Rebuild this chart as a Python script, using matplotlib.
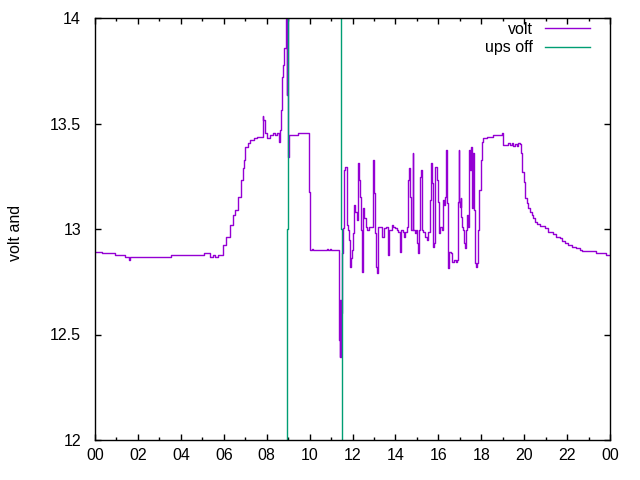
import matplotlib
matplotlib.use("Agg")
import matplotlib.pyplot as plt
import numpy as np

plt.rcParams['font.family'] = ['Liberation Sans', 'DejaVu Sans']

# volt series: (hour, volt)
volt_h = [0.00, 0.33, 0.93, 1.40, 1.58, 1.63, 3.53, 5.08, 5.36, 5.50, 5.59, 5.73,
          5.97, 6.11, 6.29, 6.43, 6.52, 6.66, 6.80, 6.90, 6.94, 6.99, 7.13, 7.22,
          7.41, 7.55, 7.81, 7.83, 7.92, 8.02, 8.16, 8.30, 8.39, 8.48, 8.57, 8.62,
          8.67, 8.71, 8.76, 8.81, 8.88, 8.92, 8.95, 8.96, 8.97, 9.01, 9.03, 9.46,
          9.99, 10.04, 10.10, 10.16, 10.80, 10.88, 10.95, 11.00,
          11.37, 11.39, 11.42, 11.44, 11.46, 11.48, 11.51, 11.54, 11.60, 11.65,
          11.76, 11.80, 11.84, 11.88, 11.93, 11.99, 12.04, 12.08, 12.13, 12.20,
          12.26, 12.30, 12.35, 12.40, 12.44, 12.50, 12.55, 12.63, 12.69, 12.78,
          12.90, 12.97, 13.00, 13.05, 13.10, 13.14, 13.20, 13.31, 13.39, 13.47,
          13.56, 13.67, 13.72, 13.83, 13.90, 13.98, 14.06, 14.13, 14.21, 14.25,
          14.34, 14.40, 14.46, 14.53, 14.57, 14.60, 14.65, 14.68, 14.73, 14.81,
          14.83, 14.91, 14.96, 15.02, 15.07, 15.11, 15.15, 15.18, 15.23, 15.30,
          15.38, 15.46, 15.53, 15.61, 15.64, 15.69, 15.74, 15.80, 15.86, 15.92,
          15.97, 16.02, 16.08, 16.16, 16.23, 16.28, 16.33, 16.36, 16.39, 16.44,
          16.46, 16.51, 16.58, 16.64, 16.73, 16.81, 16.86, 16.90, 16.95, 16.98,
          17.01, 17.04, 17.07, 17.10, 17.16, 17.21, 17.24, 17.29, 17.32, 17.37,
          17.42, 17.44, 17.48, 17.51, 17.57, 17.62, 17.65, 17.71, 17.76, 17.82,
          17.86, 17.91, 17.97, 18.02, 18.10, 18.25, 18.56, 18.95, 18.98, 19.01,
          19.26, 19.34, 19.42, 19.49, 19.57, 19.65, 19.73, 19.81, 19.85, 19.91,
          19.98, 20.02, 20.05, 20.12, 20.19, 20.27, 20.35, 20.43, 20.51, 20.61,
          20.74, 20.97, 21.13, 21.33, 21.48, 21.67, 21.75, 21.90, 22.06, 22.22,
          22.42, 22.60, 22.68, 23.35, 23.81, 24.00]
volt_v = [12.893, 12.885, 12.877, 12.869, 12.853, 12.866, 12.877, 12.885, 12.869, 12.877, 12.869, 12.877,
          12.924, 12.962, 13.019, 13.066, 13.090, 13.152, 13.232, 13.289, 13.327, 13.389, 13.408, 13.422,
          13.431, 13.436, 13.536, 13.517, 13.455, 13.431, 13.445, 13.455, 13.445, 13.455, 13.412, 13.469,
          13.564, 13.720, 13.777, 13.858, 13.943, 13.995, 14.180, 13.635, 14.180, 13.341, 13.445, 13.454,
          13.175, 12.900, 12.907, 12.900, 12.907, 12.900, 12.907, 12.900,
          12.720, 12.474, 12.393, 12.664, 12.393, 12.600, 12.886, 13.005, 13.280, 13.294,
          13.019, 12.995, 12.948, 12.820, 12.863, 12.900, 12.981, 13.114, 13.081, 13.043,
          13.313, 13.232, 13.152, 12.995, 12.796, 13.100, 13.052, 13.009, 12.995, 13.009,
          13.009, 13.327, 13.171, 12.981, 12.820, 12.791, 13.009, 13.009, 12.962, 13.005,
          13.009, 12.877, 12.995, 13.019, 13.009, 13.005, 12.995, 12.986, 12.891, 12.995,
          12.986, 12.962, 12.986, 13.009, 13.137, 13.232, 13.289, 13.152, 12.995, 13.360,
          12.995, 12.981, 12.995, 12.934, 12.886, 12.995, 13.246, 13.280, 12.995, 12.986,
          12.962, 12.948, 12.986, 13.137, 13.313, 13.218, 12.915, 12.934, 13.294, 13.232,
          13.128, 12.981, 13.009, 12.995, 13.137, 13.114, 13.152, 13.374, 13.123, 12.839,
          12.815, 12.891, 12.886, 12.844, 12.853, 12.844, 12.853, 13.128, 13.374, 13.128,
          13.104, 13.147, 13.057, 13.009, 12.995, 12.934, 12.910, 12.995, 13.066, 13.009,
          13.280, 13.374, 13.280, 13.389, 13.100, 13.360, 13.090, 12.839, 12.820, 12.839,
          12.995, 13.185, 13.327, 13.412, 13.431, 13.436, 13.445, 13.445, 13.455, 13.398,
          13.408, 13.398, 13.408, 13.393, 13.403, 13.393, 13.408, 13.403, 13.360, 13.270,
          13.223, 13.175, 13.147, 13.123, 13.100, 13.081, 13.066, 13.052, 13.033, 13.024,
          13.014, 13.005, 12.986, 12.976, 12.962, 12.957, 12.943, 12.934, 12.924, 12.915,
          12.910, 12.900, 12.896, 12.888, 12.877, 12.877]

# ups off series: (hour, value); values outside the axis range are clipped
ups_h = [8.96, 8.96, 9.01, 9.01, np.nan, 11.46, 11.46, 11.52, 11.52]
ups_v = [11.0, 13.0, 13.0, 15.0, np.nan, 15.0, 13.0, 13.0, 11.0]

xticks = list(range(0, 25, 2))
xticklabels = ["%02d" % (h % 24) for h in xticks]
yticks = [12, 12.5, 13, 13.5, 14]
yticklabels = ["12", "12.5", "13", "13.5", "14"]

FS = 11.5

fig = plt.figure(figsize=(6.4, 4.8), dpi=100)
ax = fig.add_axes([95/640, 40/480, 515/640, 422/480])

ax.plot(volt_h, volt_v, color='#9400D3', lw=1.0, drawstyle='steps-post', label='volt')
ax.plot(ups_h, ups_v, color='#009E73', lw=1.0, label='ups off')

ax.set_xlim(0, 24)
ax.set_ylim(12, 14)
ax.set_xticks(xticks)
ax.set_xticklabels(xticklabels)
ax.set_xticks(range(1, 24, 2), minor=True)
ax.set_yticks(yticks)
ax.set_yticklabels(yticklabels)

ax.tick_params(axis='both', which='major', direction='in', length=4.5, width=1,
               top=True, right=True, labelsize=FS, colors='black')
ax.tick_params(axis='x', which='minor', direction='in', length=2.2, width=1,
               top=True, bottom=True)
ax.tick_params(axis='x', which='major', pad=6)
ax.tick_params(axis='y', which='major', pad=10)
for s in ax.spines.values():
    s.set_linewidth(1.0)
    s.set_color('black')

fig.text(15/640, 1 - 233/480, 'volt and', rotation=90, ha='center', va='center', fontsize=FS)

leg = ax.legend(loc='upper right', bbox_to_anchor=(1 - 20/515, 1 - 4/422), frameon=False,
                markerfirst=False, fontsize=FS, handlelength=2.8, handletextpad=0.8,
                labelspacing=0.2, borderaxespad=0.0, borderpad=0.0)

fig.savefig('out.png', dpi=100)
